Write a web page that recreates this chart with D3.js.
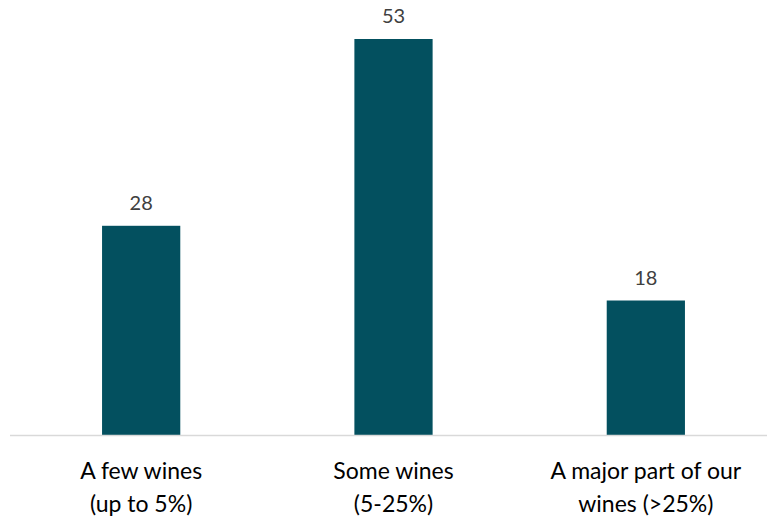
<!DOCTYPE html>
<html>
<head>
<meta charset="utf-8">
<script src="https://cdn.jsdelivr.net/npm/d3@7"></script>
<style>
  html, body { margin: 0; padding: 0; background: #ffffff; }
  svg { display: block; }
</style>
</head>
<body>
<svg id="chart" width="767" height="518"></svg>
<script>
// Share of wines concerned, by answer
const categories = [["A few wines", "(up to 5%)"], ["Some wines", "(5-25%)"], ["A major part of our", "wines (>25%)"]];
const values = [28, 53, 18];

const width = 767, height = 518;
const margin = { left: 15, right: -5, top: 39, bottom: 83 };
const baseY = height - margin.bottom;

const svg = d3.select("#chart");
const font = "Lato, 'Open Sans', sans-serif";

const x = d3.scaleBand()
  .domain(d3.range(values.length))
  .range([margin.left, width - margin.right])
  .paddingInner(0.69)
  .paddingOuter(0.345);

const y = d3.scaleLinear()
  .domain([0, 53])
  .range([baseY, margin.top]);

// Bars
svg.append("g").selectAll("rect")
  .data(values)
  .join("rect")
  .attr("x", (d, i) => x(i))
  .attr("width", x.bandwidth())
  .attr("y", d => y(d))
  .attr("height", d => y(0) - y(d))
  .attr("fill", "#03505f");

// Baseline
svg.append("line")
  .attr("x1", 10).attr("x2", width)
  .attr("y1", baseY + 0.5).attr("y2", baseY + 0.5)
  .attr("stroke", "#d9d9d9").attr("stroke-width", 1.5);

// Value labels
svg.append("g").selectAll("text")
  .data(values)
  .join("text")
  .attr("x", (d, i) => x(i) + x.bandwidth() / 2)
  .attr("y", d => y(d) - 16)
  .attr("text-anchor", "middle")
  .attr("font-family", font)
  .attr("font-size", 20)
  .attr("fill", "#404040")
  .text(d => d);

// Category labels (two lines each)
const cat = svg.append("g").selectAll("text")
  .data(categories)
  .join("text")
  .attr("text-anchor", "middle")
  .attr("font-family", font)
  .attr("font-size", 23)
  .attr("fill", "#000000");

cat.selectAll("tspan")
  .data((d, i) => d.map(t => ({ t, i })))
  .join("tspan")
  .attr("x", d => x(d.i) + x.bandwidth() / 2)
  .attr("y", (d, j) => 479 + j * 33)
  .text(d => d.t);
</script>
</body>
</html>
